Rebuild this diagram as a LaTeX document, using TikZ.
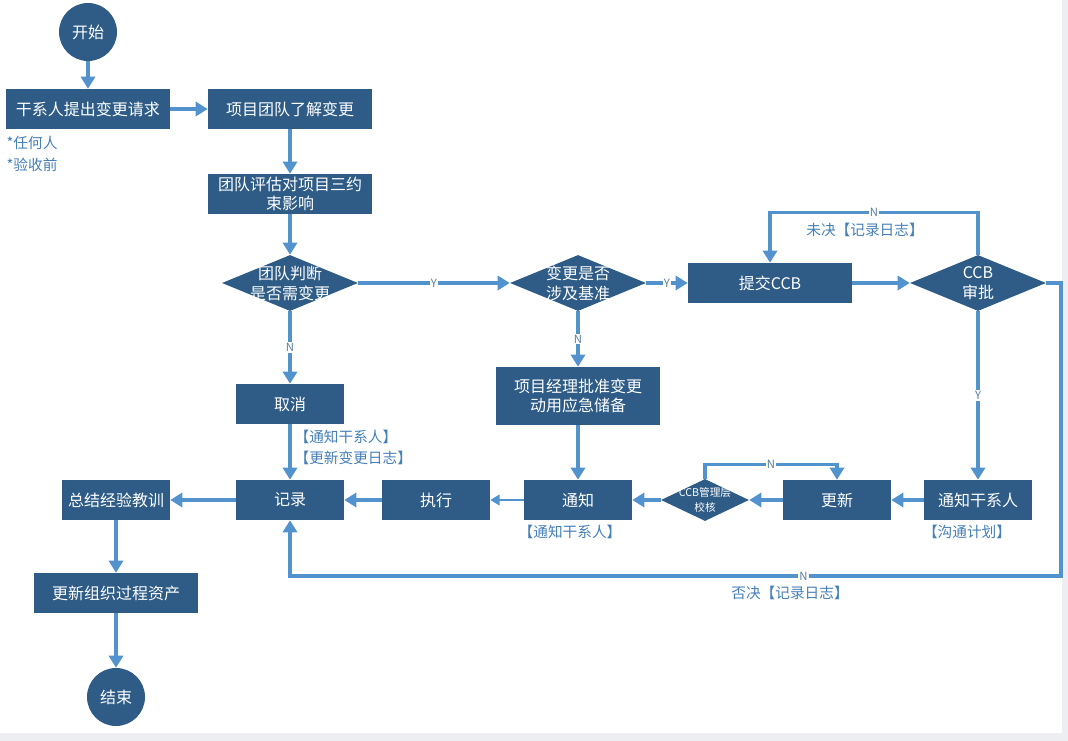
\documentclass[tikz,border=0pt]{standalone}
\usepackage{fontspec}
\setmainfont{Noto Sans CJK SC}
\usetikzlibrary{shapes.geometric,arrows.meta}
\definecolor{boxblue}{RGB}{46,92,135}
\definecolor{arrowblue}{RGB}{82,146,205}
\definecolor{labelblue}{RGB}{70,128,184}
\definecolor{ynblue}{RGB}{95,125,160}
\definecolor{edgegray}{RGB}{236,238,241}
\begin{document}
\begin{tikzpicture}[x=0.75pt,y=-0.75pt,
  box/.style={rectangle, fill=boxblue, text=white, minimum height=30pt, inner sep=1pt, align=center, font=\fontsize{12}{14.5}\selectfont},
  wide/.style={minimum width=123pt},
  narrow/.style={minimum width=81pt},
  term/.style={circle, fill=boxblue, text=white, minimum size=43.5pt, inner sep=0pt, font=\fontsize{12}{14}\selectfont},
  dec/.style={diamond, fill=boxblue, minimum width=102pt, minimum height=42pt, inner sep=0pt},
  smalldec/.style={diamond, fill=boxblue, minimum width=66pt, minimum height=31.5pt, inner sep=0pt},
  dtext/.style={text=white, align=center, inner sep=0pt, font=\fontsize{12}{15}\selectfont},
  sdtext/.style={text=white, align=center, inner sep=0pt, font=\fontsize{8}{11}\selectfont},
  arr/.style={draw=arrowblue, line width=2.5pt, -{Triangle[length=9pt,width=10.5pt]}},
  thinarr/.style={draw=arrowblue, line width=1.3pt, -{Triangle[length=7pt,width=8pt]}},
  lab/.style={text=labelblue, inner sep=1pt, font=\fontsize{11}{13}\selectfont},
  yn/.style={fill=white, text=ynblue, inner sep=1pt, font=\fontsize{8.5}{10}\selectfont}
]
\useasboundingbox (0,0) rectangle (1068,741);
\fill[white] (0,0) rectangle (1068,741);
\fill[edgegray] (1062,0) rectangle (1068,741);
\fill[edgegray] (0,733) rectangle (1068,741);

% nodes
\node[term] (start) at (88,32) {开始};
\node[box,wide] (req) at (88,109) {干系人提出变更请求};
\node[box,wide] (know) at (290,109) {项目团队了解变更};
\node[box,wide] (eval) at (290,194) {团队评估对项目三约\\束影响};
\node[dec] (need) at (290,283) {};
\node[dtext] (needt) at (need) {团队判断\\是否需变更};
\node[dec] (base) at (578,283) {};
\node[dtext] (baset) at (base) {变更是否\\涉及基准};
\node[box,wide] (ccb) at (770,283) {提交CCB};
\node[dec] (appr) at (978,283) {};
\node[dtext] (apprt) at (appr) {CCB\\审批};
\node[box,narrow] (cancel) at (290,404) {取消};
\node[box,wide,minimum height=43.5pt] (pm) at (578,396) {项目经理批准变更\\动用应急储备};
\node[box,narrow] (lesson) at (116,500) {总结经验教训};
\node[box,narrow] (rec) at (290,500) {记录};
\node[box,narrow] (exec) at (436,500) {执行};
\node[box,narrow] (notify) at (578,500) {通知};
\node[smalldec] (check) at (705,500) {};
\node[sdtext] (checkt) at (check) {CCB管理层\\校核};
\node[box,narrow] (upd) at (837,500) {更新};
\node[box,narrow] (nstake) at (978,500) {通知干系人};
\node[box,wide] (opa) at (116,593) {更新组织过程资产};
\node[term] (end) at (116,697) {结束};

% text labels
\node[lab,anchor=west] (any) at (5,143) {*任何人};
\node[lab,anchor=west] (before) at (5,165) {*验收前};
\node[lab,anchor=west] (l1) at (293,437) {【通知干系人】};
\node[lab,anchor=west] (l2) at (293,458) {【更新变更日志】};
\node[lab] (l3) at (570,532) {【通知干系人】};
\node[lab] (l4) at (967,532) {【沟通计划】};
\node[lab] (l5) at (865,230) {未决【记录日志】};
\node[lab] (l6) at (790,593) {否决【记录日志】};

% connectors
\draw[arr] (start) -- (req);
\draw[arr] (req) -- (know);
\draw[arr] (know) -- (eval);
\draw[arr] (eval) -- (need);
\draw[arr] (need) -- node[yn]{Y} (base);
\draw[arr] (base) -- node[yn]{Y} (ccb);
\draw[arr] (ccb) -- (appr);
\draw[arr] (appr.north) -- ++(0,-42) -| node[yn,pos=0.25]{N} (ccb.north);
\draw[arr] (appr) -- node[yn]{Y} (nstake);
\coordinate (rr) at (1061,576);
\draw[arr] (appr.east) -| (rr) -| node[yn,pos=0.167]{N} (rec.south);
\draw[arr] (need) -- node[yn]{N} (cancel);
\draw[arr] (base) -- node[yn]{N} (pm);
\draw[arr] (cancel) -- (rec);
\draw[arr] (pm) -- (notify);
\draw[arr] (nstake) -- (upd);
\draw[arr] (upd) -- (check);
\draw[arr] (check) -- (notify);
\draw[arr] (check.north) -- ++(0,-14) -| node[yn,pos=0.25]{N} (upd.north);
\draw[thinarr] (notify) -- (exec);
\draw[arr] (exec) -- (rec);
\draw[arr] (rec) -- (lesson);
\draw[arr] (lesson) -- (opa);
\draw[arr] (opa) -- (end);
\end{tikzpicture}
\end{document}
